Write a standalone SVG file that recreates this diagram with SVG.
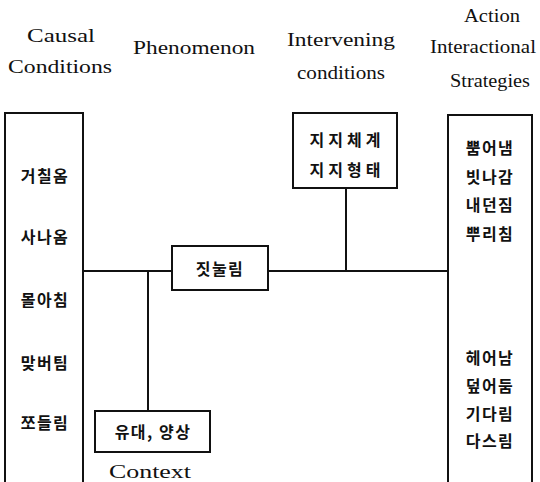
<svg xmlns="http://www.w3.org/2000/svg" width="540" height="482" viewBox="0 0 540 482">
<style>
.h{font-family:"Liberation Serif","DejaVu Serif",serif;font-size:19px;fill:#111;text-anchor:middle}
.k{font-family:"Noto Sans CJK KR","Noto Sans",sans-serif;font-size:16px;font-weight:bold;fill:#111;text-anchor:middle;letter-spacing:1.5px}
.w{letter-spacing:4px}
.b{fill:#fff;stroke:#111;stroke-width:2}
.l{fill:none;stroke:#111;stroke-width:2}
</style>
<rect width="540" height="482" fill="#fff"/>
<g id="headers">
<text class="h" x="61" y="42" textLength="68" lengthAdjust="spacingAndGlyphs">Causal</text>
<text class="h" x="60" y="73" textLength="104" lengthAdjust="spacingAndGlyphs">Conditions</text>
<text class="h" x="194" y="54" textLength="122" lengthAdjust="spacingAndGlyphs">Phenomenon</text>
<text class="h" x="341" y="46" textLength="108" lengthAdjust="spacingAndGlyphs">Intervening</text>
<text class="h" x="341" y="79" textLength="88" lengthAdjust="spacingAndGlyphs">conditions</text>
<text class="h" x="492" y="22" textLength="56" lengthAdjust="spacingAndGlyphs">Action</text>
<text class="h" x="483" y="53" textLength="106" lengthAdjust="spacingAndGlyphs">Interactional</text>
<text class="h" x="490" y="87" textLength="80" lengthAdjust="spacingAndGlyphs">Strategies</text>
</g>
<g id="connectors">
<path class="l" d="M83 271 H172"/>
<path class="l" d="M148 271 V411"/>
<path class="l" d="M268 271 H448"/>
<path class="l" d="M346 188 V271"/>
</g>
<g id="causal">
<path class="l" d="M5 482 V113 H83 V482"/>
<text class="k" x="45" y="182">거칠옴</text>
<text class="k" x="45" y="243">사나옴</text>
<text class="k" x="45" y="306">몰아침</text>
<text class="k" x="45" y="369">맞버팀</text>
<text class="k" x="45" y="429">쪼들림</text>
</g>
<g id="phenomenon">
<rect class="b" x="172" y="246" width="96" height="44"/>
<text class="k" x="220" y="275">짓눌림</text>
</g>
<g id="intervening">
<rect class="b" x="293" y="113" width="104" height="75"/>
<text class="k w" x="347" y="146">지지체계</text>
<text class="k w" x="347" y="176">지지형태</text>
</g>
<g id="context">
<rect class="b" x="95" y="411" width="115" height="41"/>
<text class="k" x="153" y="438">유대, 양상</text>
<text class="h" x="150" y="478" textLength="82" lengthAdjust="spacingAndGlyphs">Context</text>
</g>
<g id="strategies">
<path class="l" d="M448 482 V115 H532 V482"/>
<text class="k" x="490" y="154">뿜어냄</text>
<text class="k" x="490" y="183">빗나감</text>
<text class="k" x="490" y="211">내던짐</text>
<text class="k" x="490" y="240">뿌리침</text>
<text class="k" x="490" y="364">헤어남</text>
<text class="k" x="490" y="392">덮어둠</text>
<text class="k" x="490" y="420">기다림</text>
<text class="k" x="490" y="447">다스림</text>
</g>
</svg>
